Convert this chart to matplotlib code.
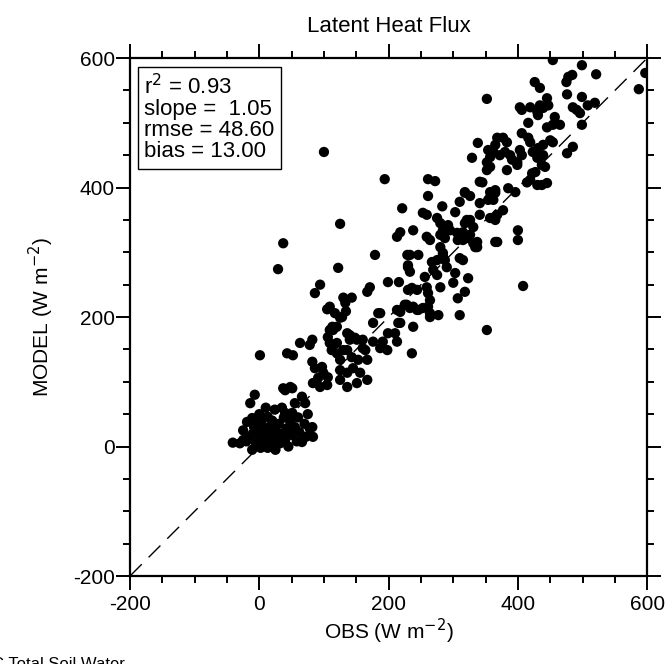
#!/usr/bin/env python3
"""Latent heat flux: model vs obs scatter (single panel)."""

import matplotlib

matplotlib.use("Agg")
import matplotlib.pyplot as plt
from matplotlib.ticker import MultipleLocator

plt.rcParams["font.family"] = ["Liberation Sans", "DejaVu Sans"]
plt.rcParams["axes.unicode_minus"] = False

# (obs, model) pairs, W m-2
OBS_NEAR_ZERO = [-41, -30, -25, -20, -19, -15, -11, -11, -10, -8, -5, -5, 0, 0, 2, 4, 5, 8, 10, 12,
                 13, 13, 15, 18, 20, 20, 22, 24, 25, 28, 30, 32, 35, 35, 38, 40, 40, 42, 45, 48,
                 50, 51, 55, 55, 58, 60, 62, 66, 66, 70, 71, 72, 75, 78, 82, 83, 83, -14, -7, 40,
                 51, 10, 0, -25, 25]
MOD_NEAR_ZERO = [6, 5, 10, 8, 38, 15, 44, -5, 20, 30, 5, 25, 10, 35, -2, 41, 18, 28, 5, 12,
                 46, -2, 30, 20, 0, 40, 10, 57, 25, 15, 35, 5, 60, 20, 45, 52, 10, 28, 0, 38,
                 18, 52, 30, 67, 8, 45, 22, 7, 77, 35, 67, 15, 50, 28, 30, 15, 98, 67, 80, 87,
                 90, 60, 50, 25, -5]

OBS_LOW = [29, 37, 1, 43, 52, 48, 37, 94, 105, 82, 86, 97, 99, 91, 106, 125, 136, 145, 156, 125,
           136, 151, 167, 109, 112, 120, 125, 136, 143, 153, 164, 167, 82, 78, 63, 125, 109, 106,
           140, 148, 105, 134, 122, 86, 94, 130, 143, 171, 167, 128, 176, 113, 120, 125, 117, 114,
           136, 140, 151, 120, 130, 160, 160, 176, 187, 198, 191, 133, 109, 100]
MOD_LOW = [274, 314, 141, 144, 141, 92, 90, 92, 95, 131, 121, 123, 114, 106, 107, 118, 114, 121, 114, 103,
           92, 98, 103, 160, 149, 144, 134, 149, 138, 134, 149, 134, 165, 157, 160, 199, 180, 169,
           172, 168, 212, 209, 276, 237, 250, 230, 230, 246, 239, 200, 191, 185, 185, 344, 206, 180,
           175, 165, 165, 160, 149, 152, 165, 162, 152, 149, 162, 222, 216, 455]

OBS_MID = [184, 187, 179, 194, 199, 216, 218, 213, 215, 199, 210, 213, 238, 225, 233, 246, 228, 238,
           244, 253, 261, 264, 264, 277, 230, 233, 230, 256, 267, 230, 244, 236, 259, 261, 264, 229,
           233, 246, 284, 280, 284, 287, 290, 275, 269, 275, 280, 236, 218,
           221, 253, 259, 283, 275, 280, 290, 295, 238, 218, 213, 259, 264, 280, 287, 261, 272, 261,
           292, 284]
MOD_MID = [206, 206, 296, 413, 254, 254, 191, 211, 191, 175, 175, 162, 185, 219, 214, 211, 219, 216,
           211, 214, 216, 200, 206, 203, 280, 270, 277, 262, 285, 242, 242, 245, 246, 237, 226, 296,
           296, 296, 296, 308, 299, 288, 277, 288, 273, 265, 246, 144, 208,
           368, 361, 358, 371, 353, 345, 339, 334, 334, 331, 324, 324, 319, 327, 322, 413, 410, 387,
           342, 334]

OBS_UPPER = [306, 315, 323, 331, 337, 303, 310, 318, 326, 318, 326, 341, 341, 341, 321, 331, 315, 307,
             326, 337, 334, 310, 315, 303, 300, 323, 318, 307, 310, 357, 365, 354, 357, 368, 365, 365,
             368, 352, 400, 400, 408, 362, 377,
             318, 357, 365, 385, 396, 345, 414, 419, 430, 445, 437, 422, 427, 383, 399, 352, 357, 329,
             338, 354, 362, 357, 352, 372, 380, 388, 391, 399, 403, 406, 423, 431, 434, 430, 368, 377,
             383, 365, 406, 416, 419, 416, 403, 406, 419, 430, 431, 426, 434, 352, 439, 437, 442, 439,
             450, 454, 445, 454, 465, 457, 445, 447, 439, 434]
MOD_UPPER = [330, 319, 322, 314, 308, 362, 378, 392, 387, 345, 350, 358, 376, 409, 350, 339, 331, 319,
             327, 316, 308, 291, 288, 268, 253, 260, 239, 229, 203, 385, 392, 381, 353, 358, 350, 316,
             316, 180, 334, 319, 248, 381, 365,
             393, 393, 396, 399, 393, 408, 408, 412, 404, 407, 404, 422, 424, 427, 435, 427, 432, 446,
             469, 458, 455, 447, 439, 450, 455, 450, 443, 439, 458, 450, 455, 461, 450, 446, 477, 477,
             470, 466, 484, 477, 470, 500, 524, 520, 524, 517, 512, 563, 554, 537, 450, 435, 432, 466,
             473, 470, 493, 497, 497, 509, 538, 527, 523, 527]

OBS_TOP = [454, 499, 521, 478, 484, 475, 476, 499, 485, 491, 496, 508, 519, 499, 485, 476, 597, 587]
MOD_TOP = [597, 589, 575, 571, 574, 563, 544, 540, 524, 520, 515, 527, 531, 497, 463, 453, 577, 552]

OBS = OBS_NEAR_ZERO + OBS_LOW + OBS_MID + OBS_UPPER + OBS_TOP
MODEL = MOD_NEAR_ZERO + MOD_LOW + MOD_MID + MOD_UPPER + MOD_TOP

STATS = ["r$^2$ = 0.93", "slope =  1.05", "rmse = 48.60", "bias = 13.00"]
LIMITS = (-200, 600)
TICKS = [-200, 0, 200, 400, 600]


def main() -> None:
    fig = plt.figure(figsize=(6.70, 6.64), dpi=100)
    ax = fig.add_axes([0.194, 0.1325, 0.772, 0.780])

    ax.plot(LIMITS, LIMITS, color="black", lw=1.0, ls=(0, (12, 7)), zorder=1)
    ax.scatter(OBS, MODEL, s=55, color="black", edgecolors="none", zorder=2)

    ax.set_xlim(*LIMITS)
    ax.set_ylim(*LIMITS)
    ax.set_xticks(TICKS)
    ax.set_yticks(TICKS)
    ax.xaxis.set_minor_locator(MultipleLocator(50))
    ax.yaxis.set_minor_locator(MultipleLocator(50))
    ax.tick_params(which="both", direction="out", top=True, right=True,
                   labelsize=15, width=1.4)
    ax.tick_params(which="major", length=10)
    ax.tick_params(which="minor", length=5)
    ax.tick_params(axis="x", which="major", pad=4)
    ax.tick_params(axis="y", which="major", pad=1)
    for sp in ax.spines.values():
        sp.set_linewidth(1.6)

    ax.set_title("Latent Heat Flux", fontsize=16, pad=19)
    ax.set_xlabel("OBS (W m$^{-2}$)", fontsize=15, labelpad=2)
    ax.set_ylabel("MODEL (W m$^{-2}$)", fontsize=15, labelpad=12)

    ax.text(0.028, 0.97, "\n".join(STATS), transform=ax.transAxes, fontsize=16,
            va="top", ha="left", linespacing=1.0,
            bbox=dict(boxstyle="square,pad=0.3", fc="white", ec="black", lw=1.0))

    # next panel's title, cut by the bottom edge
    fig.text(-0.012, -0.012, "C Total Soil Water", fontsize=12, ha="left", va="bottom")

    fig.savefig("out.png", dpi=100)
    plt.close(fig)


if __name__ == "__main__":
    main()
